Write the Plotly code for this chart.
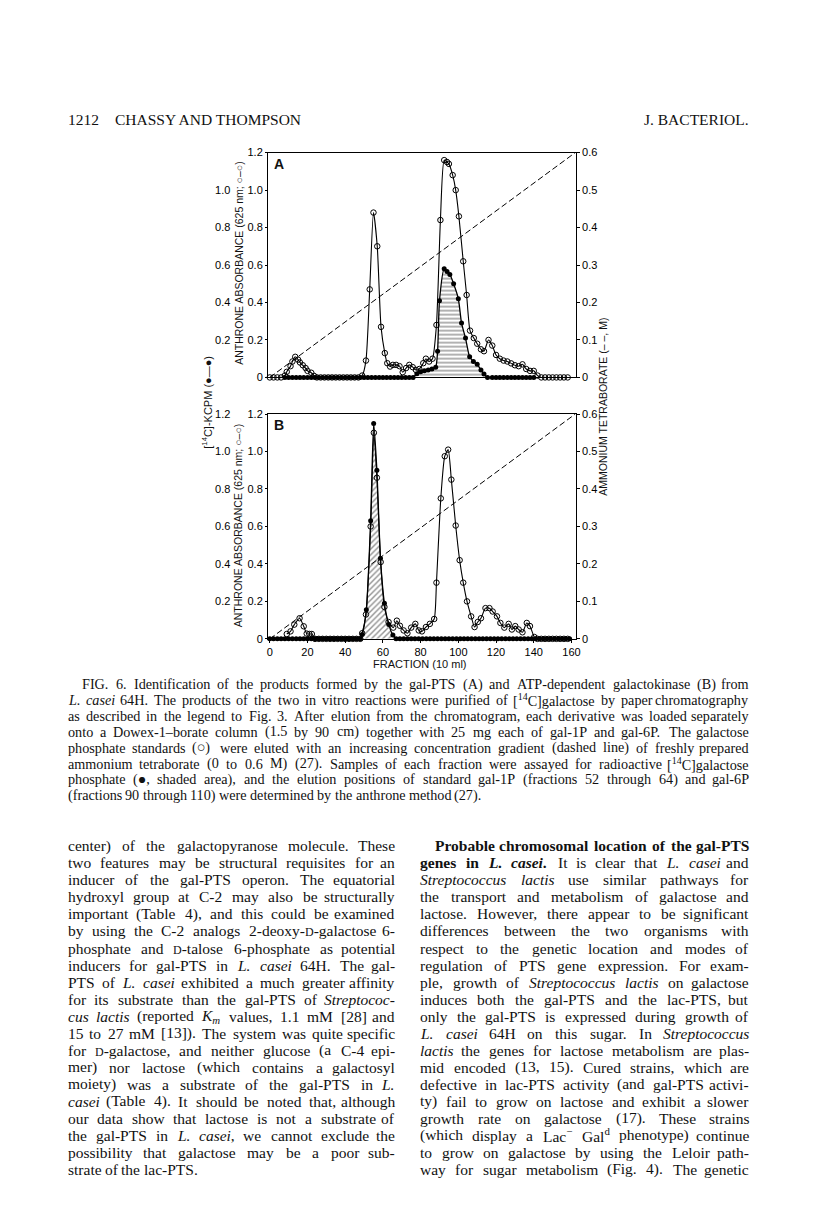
import re
import plotly.graph_objects as go

# ---- data (fraction number, value) ----
# Panel A: gal-PTS product
a_open_frac = [0, 2, 4, 6, 8, 9, 11, 12, 13.5, 15, 16, 17.5, 19, 20, 22, 23.5,
               25, 27, 29, 31, 33, 35, 37, 39, 41, 43, 45, 47, 49, 51, 53, 55, 57, 59, 61,
               62.3, 63.8, 65.3, 67, 68.8, 70.5, 72.3, 74, 75.8, 77.5, 79.3, 81.4, 82.8, 84.5, 86.3,
               88.4, 90.5, 92.5, 94, 95, 97, 98.6, 100.3, 102.6, 104.4, 106.2, 108.2, 110, 112, 113.6,
               116, 118, 120, 122, 124, 126, 128, 130, 132, 134, 136, 138, 140, 142,
               144, 146, 148, 150, 152, 154, 156, 158]
a_open_val = [0, 0, 0, 0, 0.01, 0.03, 0.06, 0.085, 0.11, 0.095, 0.08, 0.065, 0.05, 0.035, 0.025, 0.008,
              0, 0, 0, 0, 0, 0, 0, 0, 0, 0, 0, 0, 0.01, 0.09, 0.47, 0.88, 0.70, 0.27, 0.13,
              0.076, 0.058, 0.067, 0.067, 0.06, 0.028, 0.05, 0.067, 0.055, 0.04, 0.045, 0.076, 0.10, 0.085, 0.10,
              0.28, 0.84, 1.16, 1.15, 1.14, 1.08, 1.0, 0.86, 0.62, 0.44, 0.25, 0.21, 0.18, 0.15, 0.14,
              0.20, 0.17, 0.12, 0.10, 0.09, 0.085, 0.075, 0.065, 0.06, 0.07, 0.045, 0.035, 0.035, 0.01,
              0, 0, 0, 0, 0, 0, 0, 0]

a_kcpm_frac = [8, 10, 12, 14, 16, 18, 20, 22, 24, 26, 28, 30, 32, 34, 36, 38, 40, 42, 44, 46,
               48, 50, 52, 54, 56, 58, 60, 62, 64, 66, 68, 70, 72, 74, 76,
               78, 80, 82, 84, 86, 88, 89, 90, 92.5, 94, 95.5, 97.5, 100, 101.7, 103.8, 106, 108,
               110, 112, 113.6, 115.5, 118, 120, 122, 124, 126, 128, 130, 132, 134, 136, 138, 140]
a_kcpm_val = [0, 0, 0, 0, 0, 0, 0, 0, 0, 0, 0, 0, 0, 0, 0, 0, 0, 0, 0, 0,
              0, 0, 0, 0, 0, 0, 0, 0, 0, 0, 0, 0, 0, 0, 0,
              0.02, 0.03, 0.035, 0.04, 0.045, 0.055, 0.14, 0.41, 0.58, 0.565, 0.55, 0.50, 0.42, 0.29, 0.21, 0.11, 0.085,
              0.07, 0.04, 0.018, 0, 0, 0, 0, 0, 0, 0, 0, 0, 0, 0, 0, 0]

# Panel B: galactokinase product
b_open_frac = [9, 11, 13, 15.8, 18, 19.6, 21, 22.3,
               24, 26, 28, 30, 32, 34, 36, 38, 40, 42, 44, 46, 48,
               49, 51, 53.5, 55.2, 56.8, 58.8, 60.8, 63, 65.5, 67.4, 69, 71, 73, 75, 77.2, 79, 80.7,
               82.8, 84.9, 87.2, 88.4, 90.7, 92.8, 94.6, 96.3, 98.6, 100.7, 102.6, 104.6, 106.8, 108.6,
               110.3, 112, 114.4, 116.5, 118.2, 120.5, 122.3, 124.4, 126.7, 128.4, 130.2, 132, 134,
               136.3, 138, 140.3, 142, 144, 146, 148, 150, 152, 154, 156, 158]
b_open_val = [0.026, 0.04, 0.076, 0.11, 0.067, 0.028, 0.026, 0.026,
              0, 0, 0, 0, 0, 0, 0, 0, 0, 0, 0, 0, 0,
              0.03, 0.13, 0.60, 1.10, 0.86, 0.41, 0.17, 0.09, 0.06, 0.097, 0.07, 0.045, 0.03, 0.06, 0.08, 0.045, 0.04,
              0.063, 0.08, 0.106, 0.30, 0.75, 0.975, 1.01, 0.85, 0.605, 0.42, 0.30, 0.20, 0.12, 0.063,
              0.09, 0.11, 0.164, 0.164, 0.146, 0.12, 0.085, 0.06, 0.08, 0.05, 0.068, 0.05, 0.035,
              0.085, 0.068, 0.01, 0, 0, 0, 0, 0, 0, 0, 0, 0]

b_kcpm_frac = [0, 2, 4, 6, 8, 10, 12, 14, 16, 18, 20, 22, 24, 26, 28, 30, 32, 34, 36, 38, 40,
               42, 44, 46, 48, 49, 51.2, 53.5, 55.1, 56.8, 58.7, 60.8, 63.1, 65.3, 67, 69, 71, 73,
               75, 77, 79, 81, 83, 85, 87, 89, 91, 93, 95, 97, 99, 101, 103, 105, 107, 109, 111,
               113, 115, 117, 119, 121, 123, 125, 127, 129, 131, 133, 135, 137, 139, 141, 143, 145,
               147, 149, 151, 153, 155, 157, 159]
b_kcpm_val = [0, 0, 0, 0, 0, 0, 0, 0, 0, 0, 0, 0, 0, 0, 0, 0, 0, 0, 0, 0, 0,
              0, 0, 0, 0, 0.023, 0.155, 0.63, 1.15, 0.90, 0.43, 0.19, 0.076, 0.02, 0, 0, 0, 0,
              0, 0, 0, 0, 0, 0, 0, 0, 0, 0, 0, 0, 0, 0, 0, 0, 0, 0, 0,
              0, 0, 0, 0, 0, 0, 0, 0, 0, 0, 0, 0, 0, 0, 0, 0, 0,
              0, 0, 0, 0, 0, 0, 0]

# tetraborate gradient (M), linear from start to end of run
grad_frac = [0, 162]
grad_conc = [0, 0.6]

x_ticks = [0, 20, 40, 60, 80, 100, 120, 140, 160]
left_ticks = [0, 0.2, 0.4, 0.6, 0.8, 1.0, 1.2]
left_text = ["0", "0.2", "0.4", "0.6", "0.8", "1.0", "1.2"]
right_ticks = [0, 0.1, 0.2, 0.3, 0.4, 0.5, 0.6]
right_text = ["0", "0.1", "0.2", "0.3", "0.4", "0.5", "0.6"]

caption = [
    "FIG. 6. Identification of the products formed by the gal-PTS (A) and ATP-dependent galactokinase (B) from",
    "<i>L. casei</i> 64H. The products of the two in vitro reactions were purified of [<sup>14</sup>C]galactose by paper chromatography",
    "as described in the legend to Fig. 3. After elution from the chromatogram, each derivative was loaded separately",
    "onto a Dowex-1–borate column (1.5 by 90 cm) together with 25 mg each of gal-1P and gal-6P. The galactose",
    "phosphate standards (○) were eluted with an increasing concentration gradient (dashed line) of freshly prepared",
    "ammonium tetraborate (0 to 0.6 M) (27). Samples of each fraction were assayed for radioactive [<sup>14</sup>C]galactose",
    "phosphate (●, shaded area), and the elution positions of standard gal-1P (fractions 52 through 64) and gal-6P",
    "(fractions 90 through 110) were determined by the anthrone method (27).",
]

SC = "<span style='font-size:12px'>D</span>"
left_col = [
    "center) of the galactopyranose molecule. These",
    "two features may be structural requisites for an",
    "inducer of the gal-PTS operon. The equatorial",
    "hydroxyl group at C-2 may also be structurally",
    "important (Table 4), and this could be examined",
    "by using the C-2 analogs 2-deoxy-" + SC + "-galactose 6-",
    "phosphate and " + SC + "-talose 6-phosphate as potential",
    "inducers for gal-PTS in <i>L. casei</i> 64H. The gal-",
    "PTS of <i>L. casei</i> exhibited a much greater affinity",
    "for its substrate than the gal-PTS of <i>Streptococ-</i>",
    "<i>cus lactis</i> (reported <i>K<sub>m</sub></i> values, 1.1 mM [28] and",
    "15 to 27 mM [13]). The system was quite specific",
    "for " + SC + "-galactose, and neither glucose (a C-4 epi-",
    "mer) nor lactose (which contains a galactosyl",
    "moiety) was a substrate of the gal-PTS in <i>L.</i>",
    "<i>casei</i> (Table 4). It should be noted that, although",
    "our data show that lactose is not a substrate of",
    "the gal-PTS in <i>L. casei</i>, we cannot exclude the",
    "possibility that galactose may be a poor sub-",
    "strate of the lac-PTS.",
]
right_col = [
    "<b>Probable chromosomal location of the gal-PTS</b>",
    "<b>genes in <i>L. casei</i>.</b> It is clear that <i>L. casei</i> and",
    "<i>Streptococcus lactis</i> use similar pathways for",
    "the transport and metabolism of galactose and",
    "lactose. However, there appear to be significant",
    "differences between the two organisms with",
    "respect to the genetic location and modes of",
    "regulation of PTS gene expression. For exam-",
    "ple, growth of <i>Streptococcus lactis</i> on galactose",
    "induces both the gal-PTS and the lac-PTS, but",
    "only the gal-PTS is expressed during growth of",
    "<i>L. casei</i> 64H on this sugar. In <i>Streptococcus</i>",
    "<i>lactis</i> the genes for lactose metabolism are plas-",
    "mid encoded (13, 15). Cured strains, which are",
    "defective in lac-PTS activity (and gal-PTS activi-",
    "ty) fail to grow on lactose and exhibit a slower",
    "growth rate on galactose (17). These strains",
    "(which display a Lac<sup>−</sup> Gal<sup>d</sup> phenotype) continue",
    "to grow on galactose by using the Leloir path-",
    "way for sugar metabolism (Fig. 4). The genetic",
]

W, H = 816, 1232


def px(x):
    return x / W


def py(y):
    return 1 - y / H


SANS = "Liberation Sans, Arial, sans-serif"
SERIF = "Liberation Serif, Times New Roman, serif"

# plot frames in page pixels
X0, X1 = 261, 571
A_TOP, A_BOT = 140, 367
B_TOP, B_BOT = 404, 631
XR = [-0.9, 162.3]

fig = go.Figure()


def add_panel(xa, ya, yr, yk, open_f, open_v, k_f, k_v, pattern):
    # anthrone absorbance (open circles)
    fig.add_trace(go.Scatter(
        x=open_f, y=open_v, xaxis=xa, yaxis=ya, mode="lines+markers",
        line=dict(color="black", width=1.1, shape="spline", smoothing=0.6),
        marker=dict(symbol="circle-open", size=5.5, color="black", line=dict(width=1)),
        showlegend=False, cliponaxis=False))
    # gradient
    fig.add_trace(go.Scatter(
        x=grad_frac, y=grad_conc, xaxis=xa, yaxis=yr, mode="lines",
        line=dict(color="black", width=1, dash="6px,3px"),
        showlegend=False))
    # [14C] KCPM (filled circles, shaded)
    fig.add_trace(go.Scatter(
        x=k_f, y=k_v, xaxis=xa, yaxis=yk, mode="lines+markers",
        line=dict(color="black", width=1.3, shape="spline", smoothing=0.6),
        marker=dict(symbol="circle", size=5, color="black"),
        fill="tozeroy", fillcolor="rgba(0,0,0,0)",
        fillpattern=dict(shape=pattern, size=4, solidity=0.35, fgcolor="#222",
                         bgcolor="rgba(0,0,0,0)"),
        showlegend=False, cliponaxis=False))


add_panel("x2", "y3", "y4", "y6", a_open_frac, a_open_val, a_kcpm_frac, a_kcpm_val, "-")
add_panel("x", "y", "y2", "y5", b_open_frac, b_open_val, b_kcpm_frac, b_kcpm_val, "/")

tickfont = dict(family=SANS, size=11, color="black")
ax_common = dict(showgrid=False, zeroline=False, showline=True, linecolor="black",
                 linewidth=1.2, tickfont=tickfont, tickcolor="black")

dom_x = [px(X0), px(X1)]
dom_a = [py(A_BOT), py(A_TOP)]
dom_b = [py(B_BOT), py(B_TOP)]
OUTER = px(223)

fig.update_layout(
    width=W, height=H, margin=dict(l=0, r=0, t=0, b=0),
    paper_bgcolor="white", plot_bgcolor="white",
    xaxis=dict(domain=dom_x, anchor="y", range=XR, tickvals=x_ticks, ticks="outside",
               ticklen=3, mirror=True, **ax_common),
    xaxis2=dict(domain=dom_x, anchor="y3", range=XR, showticklabels=False, ticks="",
                mirror=True, **ax_common),
    yaxis=dict(domain=dom_b, anchor="x", range=[0, 1.2], tickvals=left_ticks, ticktext=left_text,
               ticks="outside", ticklen=2, **ax_common),
    yaxis2=dict(overlaying="y", anchor="x", side="right", range=[0, 0.6], tickvals=right_ticks,
                ticktext=right_text, ticks="outside", ticklen=3, **ax_common),
    yaxis3=dict(domain=dom_a, anchor="x2", range=[0, 1.2], tickvals=left_ticks, ticktext=left_text,
                ticks="outside", ticklen=2, **ax_common),
    yaxis4=dict(overlaying="y3", anchor="x2", side="right", range=[0, 0.6], tickvals=right_ticks,
                ticktext=right_text, ticks="outside", ticklen=3, **ax_common),
    # outer [14C]-KCPM scales
    yaxis5=dict(overlaying="y", anchor="free", position=OUTER, range=[0, 1.2],
                tickvals=left_ticks[1:], ticktext=left_text[1:], showline=False, showgrid=False,
                zeroline=False, ticks="", tickfont=tickfont),
    yaxis6=dict(overlaying="y3", anchor="free", position=OUTER, range=[0, 1.2],
                tickvals=left_ticks[1:-1], ticktext=left_text[1:-1], showline=False, showgrid=False,
                zeroline=False, ticks="", tickfont=tickfont),
)

ann = []


def txt(x, y, s, size, family=SERIF, xanchor="left", angle=0, color="#111"):
    ann.append(dict(x=px(x), y=py(y), xref="paper", yref="paper", text=s, showarrow=False,
                    xanchor=xanchor, yanchor="middle", textangle=angle, borderpad=0,
                    font=dict(family=family, size=size, color=color)))


# rough Times advance widths (1/1000 em) so lines can be set justified
CW = {" ": 250, "(": 333, ")": 333, "[": 333, "]": 333, "-": 333, ".": 250, ",": 250,
      ":": 278, ";": 278, "–": 500, "−": 564, "○": 750, "●": 600, "'": 180}
CW.update({c: 500 for c in "0123456789"})
CW.update(dict(zip("abcdefghijklmnopqrstuvwxyz",
                   [444, 500, 444, 500, 444, 333, 500, 500, 278, 278, 500, 278, 778,
                    500, 500, 500, 500, 333, 389, 278, 500, 500, 722, 500, 500, 444])))
CW.update(dict(zip("ABCDEFGHIJKLMNOPQRSTUVWXYZ",
                   [722, 667, 667, 722, 611, 556, 722, 722, 333, 389, 722, 611, 889,
                    722, 722, 556, 722, 667, 556, 611, 722, 722, 944, 722, 722, 611])))
TAG = re.compile(r"(<[^>]+>)")


def word_width(word, size, bold):
    w, scale = 0, 1.0
    for part in TAG.split(word):
        if part.startswith("<"):
            t = part.lower()
            if t in ("<sup>", "<sub>"):
                scale = 0.7
            elif t.startswith("<span"):
                scale = 0.8
            elif t in ("</sup>", "</sub>", "</span>"):
                scale = 1.0
            elif t == "<b>":
                bold = True
            elif t == "</b>":
                bold = False
            continue
        for ch in part:
            w += CW.get(ch, 500) * scale * (1.07 if bold else 1)
    return w * size / 1000


def set_line(x0, x1, y, line, size, justify):
    words = re.split(r" (?![^<]*>)", line)
    stack, pieces, widths = [], [], []
    for w in words:
        before = list(stack)
        for t in re.findall(r"</?[bi]>", w):
            if t.startswith("</"):
                if t[2] in stack:
                    stack.remove(t[2])
            else:
                stack.append(t[1])
        pre = "".join("<%s>" % t for t in before)
        post = "".join("</%s>" % t for t in reversed(stack))
        pieces.append(pre + w + post)
        widths.append(word_width(w, size, "b" in before))
    n = len(words)
    gap = size * 0.25
    if justify and n > 1:
        gap = (x1 - x0 - sum(widths)) / (n - 1)
    x = x0
    for k, (p, wd) in enumerate(zip(pieces, widths)):
        if justify and k == n - 1 and n > 1:
            txt(x1, y, p, size, xanchor="right")
        else:
            txt(x, y, p, size)
        x += wd + gap


# running head
txt(58, 107, "1212", 15.5)
txt(106, 107, "CHASSY AND THOMPSON", 15.5)
txt(746, 107, "J. BACTERIOL.", 15.5, xanchor="right")

# panel letters and axis titles
txt(266, 151, "<b>A</b>", 14, family=SANS)
txt(266, 415, "<b>B</b>", 14, family=SANS)
txt(231, 252, "ANTHRONE ABSORBANCE (625 nm; ○–○)", 10.5, family=SANS, xanchor="center", angle=-90)
txt(231, 517, "ANTHRONE ABSORBANCE (625 nm; ○–○)", 10.5, family=SANS, xanchor="center", angle=-90)
txt(200, 392, "[<sup>14</sup>C]-KCPM (●—●)", 11, family=SANS, xanchor="center", angle=-90)
txt(599, 397, "AMMONIUM TETRABORATE (– –, M)", 10.5, family=SANS, xanchor="center", angle=-90)
txt(414, 656, "FRACTION (10 ml)", 11, family=SANS, xanchor="center")

# caption
for i, line in enumerate(caption):
    set_line(73 if i == 0 else 58, 746, 677 + 16 * i, line, 14.2, i < len(caption) - 1)

# body text, two justified columns
for i, line in enumerate(left_col):
    set_line(58, 390, 840 + 17.2 * i, line, 15.5, i < len(left_col) - 1)
for i, line in enumerate(right_col):
    set_line(428 if i == 0 else 413, 746, 840 + 17.2 * i, line, 15.5, True)

fig.update_layout(annotations=ann)
fig.write_html("out.html")
